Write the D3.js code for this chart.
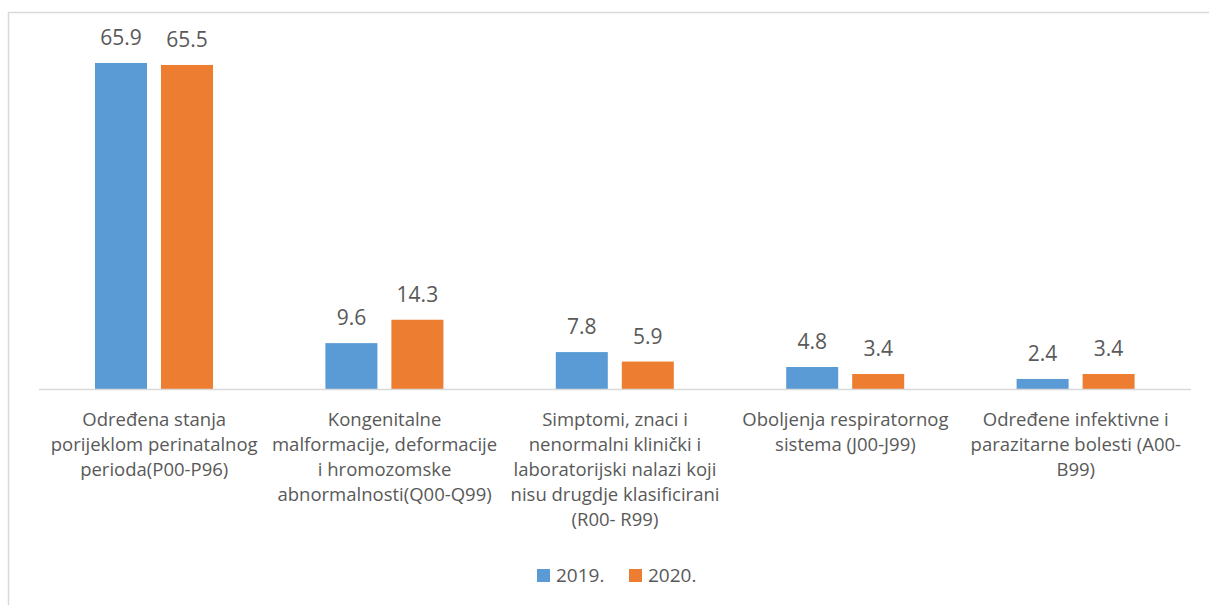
<!DOCTYPE html>
<html>
<head>
<meta charset="utf-8">
<script src="https://cdn.jsdelivr.net/npm/d3@7"></script>
<style>
  body { margin: 0; background: #fff; }
  svg text { font-family: "Open Sans", sans-serif; fill: #595959; }
</style>
</head>
<body>
<svg id="chart" width="1209" height="605"></svg>
<script>
// categories, one entry per wrapped line as in the picture
var categories = [
    ["Određena stanja", "porijeklom perinatalnog", "perioda(P00-P96)"],
    ["Kongenitalne", "malformacije, deformacije", "i hromozomske", "abnormalnosti(Q00-Q99)"],
    ["Simptomi, znaci i", "nenormalni klinički i", "laboratorijski nalazi koji", "nisu drugdje klasificirani", "(R00- R99)"],
    ["Oboljenja respiratornog", "sistema (J00-J99)"],
    ["Određene infektivne i", "parazitarne bolesti (A00-", "B99)"]
];
var seriesNames = ["2019.", "2020."];
var values2019 = [65.9, 9.6, 7.8, 4.8, 2.4];
var values2020 = [65.5, 14.3, 5.9, 3.4, 3.4];
var colors = ["#5B9BD5", "#ED7D31"];

var svg = d3.select("#chart");

// outer frame (cut off on right and bottom like the screenshot)
svg.append("rect")
    .attr("x", 8.5).attr("y", 12.5)
    .attr("width", 1220).attr("height", 620)
    .attr("fill", "none")
    .attr("stroke", "#d9d9d9")
    .attr("stroke-width", 1.5);

var baseY = 389;
var keys = categories.map(function (d, i) { return "c" + i; });

var x0 = d3.scaleBand()
    .domain(keys)
    .range([39, 1191]);

var x1 = d3.scaleBand()
    .domain(seriesNames)
    .range([56, 174])
    .paddingInner(0.212);

var y = d3.scaleLinear()
    .domain([0, 70])
    .range([390.9, 390.9 - 70 * 4.976]);

var rows = [];
keys.forEach(function (k, i) {
    rows.push({key: k, s: 0, v: values2019[i]});
    rows.push({key: k, s: 1, v: values2020[i]});
});

var g = svg.append("g");

g.selectAll(".bars")
    .data(rows)
    .enter()
    .append("rect")
    .attr("class", "bars")
    .attr("x", function (d) { return x0(d.key) + x1(seriesNames[d.s]); })
    .attr("y", function (d) { return y(d.v); })
    .attr("width", x1.bandwidth())
    .attr("height", function (d) { return baseY - y(d.v); })
    .attr("fill", function (d) { return colors[d.s]; });

g.selectAll(".vlabel")
    .data(rows)
    .enter()
    .append("text")
    .attr("class", "vlabel")
    .attr("x", function (d) { return x0(d.key) + x1(seriesNames[d.s]) + x1.bandwidth() / 2; })
    .attr("y", function (d) { return y(d.v) - 18; })
    .attr("text-anchor", "middle")
    .style("font-size", "21px")
    .text(function (d) { return d.v.toFixed(1); });

// axis line
svg.append("line")
    .attr("x1", x0.range()[0]).attr("x2", x0.range()[1])
    .attr("y1", baseY + 0.5).attr("y2", baseY + 0.5)
    .attr("stroke", "#d9d9d9")
    .attr("stroke-width", 1.5);

// category labels
var cat = svg.selectAll(".cat")
    .data(categories)
    .enter()
    .append("text")
    .attr("class", "cat")
    .attr("text-anchor", "middle")
    .style("font-size", "18.5px");

cat.selectAll("tspan")
    .data(function (d, i) { return d.map(function (t) { return {t: t, i: i}; }); })
    .enter()
    .append("tspan")
    .attr("x", function (d) { return x0(keys[d.i]) + x0.bandwidth() / 2; })
    .attr("y", function (d, j) { return 426 + j * 25; })
    .text(function (d) { return d.t; });

// legend
var legend = svg.append("g").attr("transform", "translate(537,569)");
var legX = [0, 92];
seriesNames.forEach(function (name, i) {
    legend.append("rect")
        .attr("x", legX[i]).attr("y", 0)
        .attr("width", 13).attr("height", 13)
        .attr("fill", colors[i]);
    legend.append("text")
        .attr("x", legX[i] + 19).attr("y", 13)
        .style("font-size", "19px")
        .text(name);
});
</script>
</body>
</html>
